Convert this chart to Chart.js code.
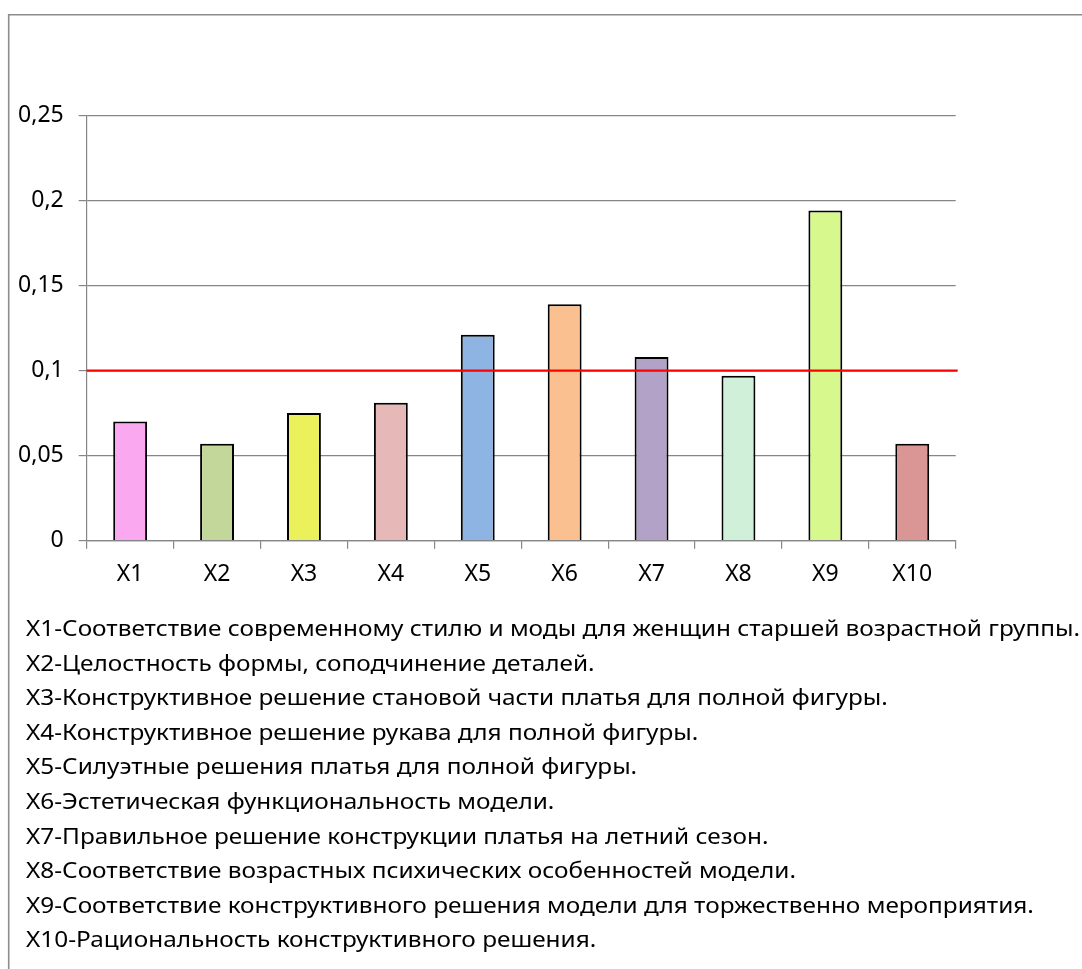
<!DOCTYPE html>
<html lang="ru">
<head>
<meta charset="utf-8">
<title>Весомость показателей X1–X10</title>
<script src="https://cdn.jsdelivr.net/npm/chart.js@4.4.1/dist/chart.umd.min.js"></script>
<style>
  html, body { margin: 0; padding: 0; background: #ffffff; }
  #wrap { width: 1082px; height: 969px; position: relative; }
  canvas { display: block; }
</style>
</head>
<body>
<div id="wrap"><canvas id="chart" width="1082" height="969"></canvas></div>
<script>
// Categories (criteria codes)
const categories = ['X1', 'X2', 'X3', 'X4', 'X5', 'X6', 'X7', 'X8', 'X9', 'X10'];

// Weight of each criterion
const weights = [0.07, 0.057, 0.075, 0.081, 0.121, 0.139, 0.108, 0.097, 0.194, 0.057];

// Fill colour of each bar
const barColors = ['#FAA8F0', '#C4D79B', '#EBF15B', '#E6B8B7', '#8DB4E2',
                   '#FAC090', '#B3A2C7', '#D0F0DA', '#D6F88C', '#DA9694'];

// Threshold level drawn as a red horizontal line
const thresholdValue = 0.1;

// Y axis range and step
const yMin = 0;
const yMax = 0.25;
const yStep = 0.05;

// Explanations printed under the chart
const notes = [
  'X1-Соответствие современному стилю и моды для женщин старшей возрастной группы.',
  'X2-Целостность формы, соподчинение деталей.',
  'X3-Конструктивное решение становой части платья для полной фигуры.',
  'X4-Конструктивное решение рукава для полной фигуры.',
  'X5-Силуэтные решения платья для полной фигуры.',
  'X6-Эстетическая функциональность модели.',
  'X7-Правильное решение конструкции платья на летний сезон.',
  'X8-Соответствие возрастных психических особенностей модели.',
  'X9-Соответствие конструктивного решения модели для торжественно мероприятия.',
  'X10-Рациональность конструктивного решения.'
];

const FONT = '"Noto Sans", "DejaVu Sans", sans-serif';
const GRID = '#868686';

// Outer frame of the chart object (top and left edges are visible)
const framePlugin = {
  id: 'frame',
  beforeDraw(chart) {
    const ctx = chart.ctx;
    ctx.save();
    ctx.strokeStyle = '#8c8c8c';
    ctx.lineWidth = 1.6;
    ctx.beginPath();
    ctx.moveTo(8.7, chart.height + 5);
    ctx.lineTo(8.7, 14.7);
    ctx.lineTo(chart.width + 5, 14.7);
    ctx.stroke();
    ctx.restore();
  }
};

// Red threshold line across the plot area, drawn on top of the bars
const thresholdPlugin = {
  id: 'threshold',
  afterDatasetsDraw(chart) {
    const y = chart.scales.y.getPixelForValue(thresholdValue);
    const area = chart.chartArea;
    const ctx = chart.ctx;
    ctx.save();
    ctx.strokeStyle = '#FF0000';
    ctx.lineWidth = 2.2;
    ctx.beginPath();
    ctx.moveTo(area.left, y);
    ctx.lineTo(area.right + 2, y);
    ctx.stroke();
    ctx.restore();
  }
};

// Text block with criteria explanations under the chart
const notesPlugin = {
  id: 'notes',
  afterDraw(chart) {
    const ctx = chart.ctx;
    ctx.save();
    ctx.font = '21px ' + FONT;
    ctx.fillStyle = '#000000';
    ctx.textBaseline = 'alphabetic';
    ctx.textAlign = 'left';
    const left = 26;
    const firstWidth = ctx.measureText(notes[0]).width;
    const sx = 1054 / firstWidth;
    const firstBaseline = 636;
    const step = 34.6;
    notes.forEach((line, i) => {
      ctx.save();
      ctx.translate(left, firstBaseline + i * step);
      ctx.scale(sx, 1);
      ctx.fillText(line, 0, 0);
      ctx.restore();
    });
    ctx.restore();
  }
};

function formatTick(v) {
  const r = Math.round(v * 100) / 100;
  return String(r).replace('.', ',');
}

new Chart(document.getElementById('chart'), {
  type: 'bar',
  data: {
    labels: categories,
    datasets: [{
      data: weights,
      backgroundColor: barColors,
      borderColor: '#000000',
      borderWidth: 2,
      barPercentage: 0.39,
      categoryPercentage: 1.0
    }]
  },
  options: {
    responsive: false,
    animation: false,
    events: [],
    layout: {
      padding: { left: 0, top: 115.3, right: 126.3, bottom: 368.3 }
    },
    plugins: {
      legend: { display: false },
      tooltip: { enabled: false },
      title: { display: false }
    },
    scales: {
      x: {
        offset: true,
        grid: {
          display: true,
          drawOnChartArea: false,
          drawTicks: true,
          tickLength: 8,
          color: GRID,
          lineWidth: 1.2,
          offset: true
        },
        border: { display: true, color: GRID, width: 1.2 },
        ticks: {
          font: { family: FONT, size: 23 },
          color: '#000000',
          padding: 12,
          maxRotation: 0,
          autoSkip: false
        },
        afterFit(scale) { scale.height = 60; }
      },
      y: {
        min: yMin,
        max: yMax,
        grid: {
          color: GRID,
          lineWidth: 1.2,
          drawTicks: true,
          tickLength: 8
        },
        border: { display: true, color: GRID, width: 1.2 },
        ticks: {
          stepSize: yStep,
          font: { family: FONT, size: 23 },
          color: '#000000',
          padding: 15,
          callback: (v) => formatTick(v)
        },
        afterFit(scale) { scale.width = 86.7; }
      }
    }
  },
  plugins: [framePlugin, thresholdPlugin, notesPlugin]
});
</script>
</body>
</html>
